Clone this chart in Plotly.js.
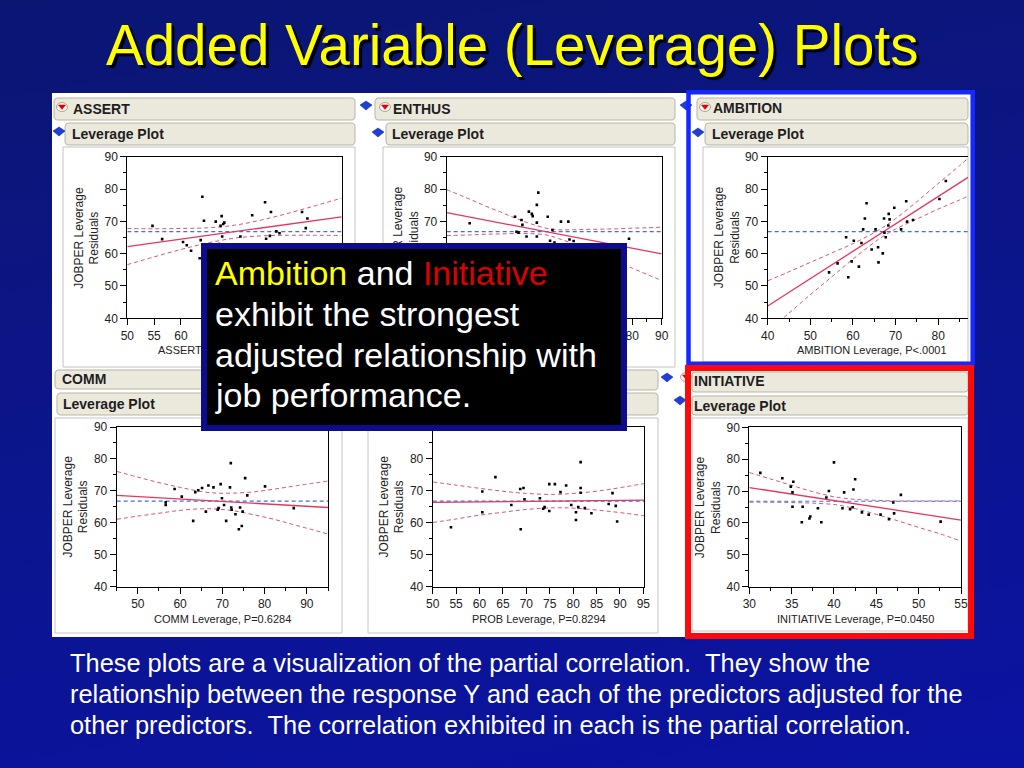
<!DOCTYPE html>
<html><head><meta charset="utf-8">
<script src="https://cdn.plot.ly/plotly-3.0.1.min.js"></script>
<style>
html,body{margin:0;padding:0;}
#wrap{width:1024px;height:768px;background:linear-gradient(170deg,#0a1672 0%,#0b158a 45%,#0b13a2 100%);}
#chart{width:1024px;height:768px;}
</style></head><body><div id="wrap"><div id="chart"></div></div>
<script>
// ---------------- DATA ----------------
const panelNames = ["ASSERT","ENTHUS","AMBITION","COMM","PROB","INITIATIVE"];
const xTitles = ["ASSERT Leverage","ENTHUS Leverage","AMBITION Leverage, P<.0001","COMM Leverage, P=0.6284","PROB Leverage, P=0.8294","INITIATIVE Leverage, P=0.0450"];
const yTitle = "JOBPER Leverage<br>Residuals";
const meanY = 66.8;

const assertX = [54.7,56.5,60.4,61.1,61.9,63.5,63.7,64.0,64.3,66.5,67.1,67.4,67.6,67.7,67.9,68.1,71.1,73.3,75.7,75.9,76.6,76.8,77.8,78.4,82.6,83.3,83.6];
const assertY = [68.6,64.5,63.6,62.6,60.9,58.6,64.2,77.6,70.2,69.9,63.0,68.6,71.6,65.3,69.2,69.6,65.3,71.9,75.9,64.6,65.5,72.9,66.9,66.3,72.9,67.9,70.9];
const assertFitX = [50,90], assertFitY = [62.2,71.4];
const assertBandX = [50,55,60,65,70,75,80,85,90];
const assertUpper = [67.8,67.7,67.8,68.0,68.8,70.4,72.5,74.8,77.2];
const assertLower = [56.6,59.0,61.3,63.3,64.8,65.5,65.7,65.7,65.6];

const enthusX = [24.8,40.2,40.7,41.4,42.4,42.7,44.1,44.9,45.9,46.2,47.6,47.6,48.1,47.6,51.3,52.1,52.9,53.6,55.8,58.3,58.7,60.1,78.9];
const enthusY = [69.4,71.4,66.8,66.5,70.4,68.9,65.3,73.0,72.3,71.6,75.1,69.6,78.9,65.3,71.4,64.0,67.3,63.4,69.9,69.9,64.4,63.9,64.6];
const enthusFitX = [17,90], enthusFitY = [72.7,59.9];
const enthusBandX = [17,25,30,35,40,45,50.7,55,60,65,70,75,80,85,90];
const enthusUpper = [79.8,76.8,74.8,73.0,71.1,69.4,67.9,67.4,67.4,67.5,67.6,67.7,67.9,68.0,68.2];
const enthusLower = [65.6,65.8,66.0,66.1,66.2,66.2,65.8,64.7,63.0,61.1,59.3,57.4,55.5,53.6,51.7];

const ambitionX = [54.4,56.4,58.4,58.9,59.7,60.2,61.4,62.0,62.4,62.8,63.2,64.4,65.3,65.9,66.0,67.0,67.3,67.4,67.7,68.3,68.4,68.6,69.7,71.3,72.5,72.7,74.1,80.3,81.8];
const ambitionY = [54.2,57.0,65.1,52.7,57.6,64.0,56.0,63.3,67.5,70.9,75.6,61.3,67.5,62.0,57.3,60.1,70.9,66.5,65.1,68.7,72.3,70.6,74.2,67.5,76.2,69.9,70.4,76.9,82.5];
const ambitionFitX = [40,87], ambitionFitY = [43.8,83.6];
const ambitionBandX = [40,45,50,55,60,65,67,70,75,80,85,87];
const ambitionUpper = [51.6,54.4,57.3,60.2,63.1,66.5,68.1,70.8,76.1,81.7,87.2,89.5];
const ambitionLower = [36.0,41.6,47.3,52.8,58.3,63.5,65.3,67.6,70.7,73.8,76.6,77.8];

const commX = [56.6,56.6,58.7,60.4,63.1,63.6,64.3,65.2,66.1,66.7,67.9,68.9,69.1,69.6,69.9,70.4,70.9,71.8,72.0,72.1,72.2,73.1,73.9,74.2,74.6,74.8,75.4,75.9,80.1,86.9];
const commY = [66.4,65.6,70.6,68.2,60.6,69.6,70.2,70.9,63.5,71.7,71.1,64.1,64.6,72.1,67.7,65.6,60.6,71.1,78.7,64.8,64.1,62.7,58.0,64.8,59.0,63.5,74.0,68.6,71.4,64.6];
const commFitX = [45,95], commFitY = [68.6,64.8];
const commBandX = [45,50,55,60,65,68.7,72.5,77.5,82.5,87.5,95];
const commUpper = [76.1,74.3,72.6,71.1,69.8,69.3,69.3,69.7,70.6,71.6,73.1];
const commLower = [61.1,62.1,63.0,63.9,64.4,64.3,63.8,62.5,61.0,59.2,56.5];

const probX = [53.9,60.6,60.6,63.4,66.8,68.7,69.4,68.8,69.6,72.9,73.6,73.9,74.9,74.9,76.1,77.3,78.5,79.6,80.6,80.6,81.1,81.6,81.6,81.6,82.5,83.9,87.6,88.4,89.1,89.4];
const probY = [58.6,69.8,63.3,74.3,65.6,70.6,70.9,58.0,67.4,67.7,64.4,64.9,72.1,63.7,72.1,69.6,71.7,65.6,63.3,60.9,64.9,79.0,69.4,70.9,64.6,63.0,65.9,69.3,65.3,60.4];
const probFitX = [50,95.2], probFitY = [66.4,67.1];
const probBandX = [50,55,60,65,70,76,80,85,90,95.2];
const probUpper = [72.8,71.8,70.8,69.9,69.2,68.9,69.2,69.9,71.0,72.3];
const probLower = [60.1,61.2,62.4,63.3,64.2,64.7,64.6,64.0,63.2,62.2];

const initX = [31.3,33.9,34.9,35.1,35.2,35.1,36.2,36.3,37.1,37.2,38.1,38.5,39.1,39.4,40.0,41.0,41.2,41.9,42.2,42.3,42.5,43.3,44.1,45.5,46.5,47.0,47.1,47.9,52.6];
const initY = [75.7,74.0,71.4,69.6,72.9,65.1,60.2,65.1,61.4,62.0,64.6,60.2,68.0,70.0,79.0,64.6,69.6,64.3,64.9,70.5,73.7,63.3,62.6,62.6,61.2,66.4,63.0,68.8,60.4];
const initFitX = [30,55], initFitY = [71.1,60.9];
const initBandX = [30,32.5,35,37.5,40,40.5,42.5,45,47.5,50,52.5,55];
const initUpper = [75.8,73.8,71.8,69.8,68.2,68.0,67.4,67.1,66.9,66.9,66.9,66.9];
const initLower = [66.5,66.5,66.4,66.2,65.8,65.6,64.5,62.7,60.7,58.6,56.6,54.3];

const xRanges = [[50,90],[17,90],[40,87],[45,95],[50,95.2],[30,55]];
const xDticks = [5,10,10,10,5,5];
const xMinor = [null,5,5,5,null,2.5];
const yRange = [40,90], yDtick = 10, yMinor = 5;

// ---------------- LAYOUT GEOMETRY ----------------
const W = 1024, H = 768;
const fx = v => v / W, fy = v => 1 - v / H;
const FONT = "Liberation Sans, Arial, Helvetica, sans-serif";

const plotBoxes = [ // [left, right, top, bottom] pixels
  [127.3,341.7,156.7,318.3],[446.7,661.7,156.7,318.3],[767.7,968,156.7,318.3],
  [116.7,328,427,586.7],[432.7,644.3,427,586.7],[749.3,961,427.3,586.7]
];
const series = [
  [assertX,assertY,assertFitX,assertFitY,assertBandX,assertUpper,assertLower],
  [enthusX,enthusY,enthusFitX,enthusFitY,enthusBandX,enthusUpper,enthusLower],
  [ambitionX,ambitionY,ambitionFitX,ambitionFitY,ambitionBandX,ambitionUpper,ambitionLower],
  [commX,commY,commFitX,commFitY,commBandX,commUpper,commLower],
  [probX,probY,probFitX,probFitY,probBandX,probUpper,probLower],
  [initX,initY,initFitX,initFitY,initBandX,initUpper,initLower]
];

const FIT = '#e3375f', BAND = '#d4567c', MEAN = '#3f74d0';
const traces = [];
const layout = {
  width: W, height: H, margin: {l:0,r:0,t:0,b:0},
  paper_bgcolor: 'rgba(0,0,0,0)', plot_bgcolor: 'rgba(0,0,0,0)',
  showlegend: false, hovermode: false, shapes: [], annotations: []
};

series.forEach((s, i) => {
  const n = i === 0 ? '' : String(i + 1);
  const xa = 'x' + n, ya = 'y' + n;
  const [px, py, fxd, fyd, bx, up, lo] = s;
  const xr = xRanges[i];
  traces.push({x: bx, y: up, xaxis: xa, yaxis: ya, mode: 'lines', line: {color: BAND, width: 1, dash: '4px,3px', shape: 'spline'}});
  traces.push({x: bx, y: lo, xaxis: xa, yaxis: ya, mode: 'lines', line: {color: BAND, width: 1, dash: '4px,3px', shape: 'spline'}});
  traces.push({x: xr, y: [meanY, meanY], xaxis: xa, yaxis: ya, mode: 'lines', line: {color: MEAN, width: 1.2, dash: '4px,3px'}});
  traces.push({x: fxd, y: fyd, xaxis: xa, yaxis: ya, mode: 'lines', line: {color: FIT, width: 1.3}});
  traces.push({x: px, y: py, xaxis: xa, yaxis: ya, mode: 'markers', marker: {symbol: 'square', size: 2.6, color: '#000'}});
  const b = plotBoxes[i];
  const common = {showline: true, linecolor: '#000', linewidth: 1, ticks: 'outside', ticklen: 6, tickcolor: '#000',
    tickfont: {family: FONT, size: 12, color: '#222'}, showgrid: false, zeroline: false, fixedrange: true};
  layout['xaxis' + n] = Object.assign({}, common, {domain: [fx(b[0]), fx(b[1])], range: xr, dtick: xDticks[i], tick0: 0,
    anchor: ya, mirror: true,
    minor: xMinor[i] ? {dtick: xMinor[i], ticklen: 3, ticks: 'outside', tickcolor: '#000', showgrid: false} : undefined});
  layout['yaxis' + n] = Object.assign({}, common, {domain: [fy(b[3]), fy(b[2])], range: yRange, dtick: yDtick, tick0: 0,
    anchor: xa, mirror: i !== 2,
    minor: {dtick: yMinor, ticklen: 3, ticks: 'outside', tickcolor: '#000', showgrid: false}});
});

// ---------------- SHAPES ----------------
function rect(x0,y0,x1,y1,fill,lc,lw,layer){
  return {type:'rect',xref:'paper',yref:'paper',x0:fx(x0),x1:fx(x1),y0:fy(y1),y1:fy(y0),
    fillcolor:fill,line:{color:lc||'rgba(0,0,0,0)',width:lw||0},layer:layer||'below'};
}
function rrect(x0,y0,x1,y1,r,fill,lc){
  const rx = v => fx(v).toFixed(5), ry = v => fy(v).toFixed(5);
  const p = `M${rx(x0+r)},${ry(y0)} L${rx(x1-r)},${ry(y0)} Q${rx(x1)},${ry(y0)} ${rx(x1)},${ry(y0+r)} L${rx(x1)},${ry(y1-r)} Q${rx(x1)},${ry(y1)} ${rx(x1-r)},${ry(y1)} L${rx(x0+r)},${ry(y1)} Q${rx(x0)},${ry(y1)} ${rx(x0)},${ry(y1-r)} L${rx(x0)},${ry(y0+r)} Q${rx(x0)},${ry(y0)} ${rx(x0+r)},${ry(y0)} Z`;
  return {type:'path',xref:'paper',yref:'paper',path:p,fillcolor:fill,line:{color:lc,width:1},layer:'below'};
}
function diamond(cx,cy){
  const p = `M${fx(cx-6)},${fy(cy)} L${fx(cx)},${fy(cy-4)} L${fx(cx+6)},${fy(cy)} L${fx(cx)},${fy(cy+5)} Z`;
  return {type:'path',xref:'paper',yref:'paper',path:p,fillcolor:'#1f3fd6',line:{color:'#0a1a9a',width:0.5},layer:'below'};
}
function redIcon(cx,cy){
  return [
    {type:'circle',xref:'paper',yref:'paper',x0:fx(cx-5.5),x1:fx(cx+5.5),y0:fy(cy+4.5),y1:fy(cy-4.5),fillcolor:'#f6f4ee',line:{color:'#9a968a',width:0.8},layer:'below'},
    {type:'path',xref:'paper',yref:'paper',path:`M${fx(cx-3.5)},${fy(cy-2)} L${fx(cx+3.5)},${fy(cy-2)} L${fx(cx)},${fy(cy+2.5)} Z`,fillcolor:'#e00000',line:{color:'#e00000',width:0.5},layer:'below'}
  ];
}
const HDR = '#ebe8dc', HDRL = '#b9b4a3', FRAME = '#c4c4c4';
const S = layout.shapes;
S.push(rect(52,93,974,637,'#ffffff'));
// top row
S.push(rrect(54,98,355,120,4,HDR,HDRL)); S.push(rrect(65,123,355,145,4,HDR,HDRL)); S.push(rect(63,147,355,367,'#ffffff',FRAME,1));
S.push(rrect(375,98,675,120,4,HDR,HDRL)); S.push(rrect(386,123,675,145,4,HDR,HDRL)); S.push(rect(383,147,675,367,'#ffffff',FRAME,1));
S.push(rrect(697,98,968,120,4,HDR,HDRL)); S.push(rrect(705,123,968,145,4,HDR,HDRL)); S.push(rect(703,147,968,362,'#ffffff',FRAME,1));
// bottom row
S.push(rrect(55,370,342,389,4,HDR,HDRL)); S.push(rrect(57,393,342,415,4,HDR,HDRL)); S.push(rect(55,418,342,633,'#ffffff',FRAME,1));
S.push(rrect(372,370,658,390,4,HDR,HDRL)); S.push(rrect(384,393,658,415,4,HDR,HDRL)); S.push(rect(368,418,658,633,'#ffffff',FRAME,1));
S.push(rrect(692,372,968,392,3,HDR,HDRL)); S.push(rrect(692,396,968,415,3,HDR,HDRL)); S.push(rect(692,418,968,631,'#ffffff',FRAME,1));
// icons
[[59,131],[366,105],[378,132],[686,105],[698,132],[667,377],[680,400]].forEach(d => S.push(diamond(d[0],d[1])));
[[62,107],[385,107],[705,107],[686,377]].forEach(c => redIcon(c[0],c[1]).forEach(sh => S.push(sh)));
// highlight frames
S.push(rect(688.5,92.3,972.7,363.7,'rgba(0,0,0,0)','#1428ff',4.5,'above'));
S.push(rect(688,368,971,636,'rgba(0,0,0,0)','#ff0a0a',6,'above'));

// ---------------- ANNOTATIONS ----------------
const A = layout.annotations;
function ann(text,x,y,o){
  return Object.assign({xref:'paper',yref:'paper',x:fx(x),y:fy(y),text:text,showarrow:false,
    xanchor:'left',yanchor:'middle',font:{family:FONT,size:12,color:'#222'}},o||{});
}
// title with drop shadow
A.push(ann('Added Variable (Leverage) Plots',511.5,45.6,{xanchor:'center',
  font:{family:FONT,size:56.5,color:'#ffff00',shadow:'3px 3px 1px #000000'}}));
// footer
const footer = ['These plots are a visualization of the partial correlation.  They show the',
  'relationship between the response Y and each of the predictors adjusted for the',
  'other predictors.  The correlation exhibited in each is the partial correlation.'];
footer.forEach((t,k) => A.push(ann(t.replace(/  /g,' &nbsp;'),68,662.5+31*k,{font:{family:FONT,size:25.4,color:'#ffffff'}})));
// panel headers
const hdrPos = [[71,109,70,134],[391,109,390,134],[711,108,710,134],[60,379,61,404],[392,380,402,404],[692,381,692,405.5]];
panelNames.forEach((nm,i) => {
  const h = hdrPos[i];
  A.push(ann('<b>'+nm+'</b>',h[0],h[1],{font:{family:FONT,size:14,color:'#1e1e1e'}}));
  A.push(ann('<b>Leverage Plot</b>',h[2],h[3],{font:{family:FONT,size:14,color:'#1e1e1e'}}));
});
// axis titles
plotBoxes.forEach((b,i) => {
  A.push(ann(yTitle,b[0]-41,(b[2]+b[3])/2,{xanchor:'center',textangle:-90,font:{family:FONT,size:12,color:'#222'}}));
  if (i === 0) {
    A.push(ann(xTitles[i],156,b[3]+32,{font:{family:FONT,size:11,color:'#222'}}));
  } else {
    const cx = i === 2 ? 872 : (b[0]+b[1])/2;
    A.push(ann(xTitles[i],cx,b[3]+32,{xanchor:'center',font:{family:FONT,size:11,color:'#222'}}));
  }
});
// black call-out box (drawn last so it covers the plots beneath)
A.push(ann('&nbsp;',414,337,{xanchor:'center',yanchor:'middle',width:414,height:176,bgcolor:'#000000',
  bordercolor:'#0c0c8c',borderwidth:6,borderpad:0}));
const boxLines = ["<span style='color:#ffff00'>Ambition</span> and <span style='color:#dd0000'>Initiative</span>",
  'exhibit the strongest','adjusted relationship with','job performance.'];
const boxBase = [285,326,367,407];
boxLines.forEach((t,k) => A.push(ann(t,213,boxBase[k]-11.8,{font:{family:FONT,size:34,color:'#ffffff'}})));

Plotly.newPlot('chart', traces, layout, {staticPlot:true, displayModeBar:false});
</script></body></html>
